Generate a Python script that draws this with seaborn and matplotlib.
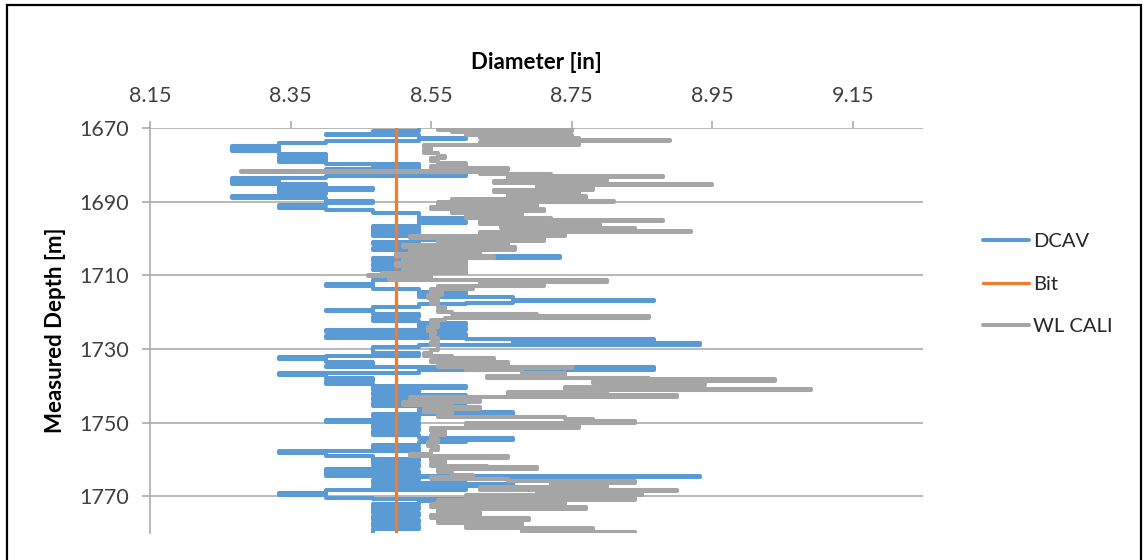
import matplotlib
matplotlib.use("Agg")
import matplotlib.pyplot as plt
import seaborn as sns
import pandas as pd
from matplotlib.patches import Rectangle

# ---- data ----
depth_dcav = [1670.0, 1670.8, 1671.5, 1671.9, 1672.6, 1673.0, 1673.4, 1674.2, 1674.8, 1675.4,
              1675.7, 1676.3, 1677.0, 1677.8, 1678.4, 1678.9, 1679.2, 1679.7, 1680.3, 1680.7,
              1681.2, 1681.9, 1682.6, 1683.0, 1683.6, 1684.2, 1684.6, 1685.3, 1685.8, 1686.4,
              1686.8, 1687.5, 1688.0, 1688.6, 1689.1, 1689.7, 1690.3, 1691.0, 1691.6, 1692.2,
              1693.2, 1694.4, 1694.8, 1695.4, 1695.8, 1696.6, 1697.2, 1697.6, 1698.2, 1698.6,
              1699.4, 1700.0, 1700.4, 1701.0, 1701.6, 1702.0, 1702.5, 1703.0, 1703.6, 1704.4,
              1704.9, 1705.3, 1706.0, 1706.6, 1707.0, 1707.6, 1708.2, 1708.6, 1709.2, 1710.0,
              1710.6, 1711.3, 1712.5, 1713.0, 1713.8, 1714.6, 1715.2, 1716.0, 1716.6, 1716.9,
              1717.5, 1717.9, 1718.5, 1719.3, 1719.8, 1720.6, 1721.2, 1722.4, 1723.0, 1723.6,
              1724.2, 1724.8, 1725.4, 1726.0, 1726.6, 1727.0, 1727.4, 1727.8, 1728.4, 1728.9,
              1729.6, 1731.0, 1731.8, 1732.3, 1732.8, 1733.6, 1734.6, 1735.0, 1735.6, 1736.6,
              1737.2, 1737.8, 1738.8, 1739.4, 1740.0, 1740.6, 1741.2, 1742.0, 1742.6, 1743.2,
              1744.0, 1744.8, 1745.6, 1746.4, 1747.0, 1747.6, 1748.2, 1749.0, 1749.4, 1749.8,
              1750.6, 1751.6, 1752.4, 1753.4, 1754.2, 1754.8, 1755.4, 1756.2, 1757.0, 1757.8,
              1758.4, 1759.0, 1759.8, 1760.4, 1761.2, 1762.0, 1762.6, 1763.2, 1763.8, 1764.4,
              1764.8, 1765.6, 1766.4, 1766.8, 1767.2, 1768.0, 1768.4, 1769.2, 1769.8, 1770.4,
              1770.8, 1771.2, 1772.0, 1773.0, 1773.6, 1774.6, 1775.4, 1776.4, 1777.2, 1778.2,
              1779.0, 1780.0]
dcav = [8.533, 8.467, 8.400, 8.533, 8.600, 8.533, 8.400, 8.333, 8.267, 8.333,
        8.267, 8.333, 8.400, 8.333, 8.400, 8.333, 8.400, 8.533, 8.467, 8.533,
        8.400, 8.467, 8.600, 8.400, 8.267, 8.333, 8.267, 8.400, 8.333, 8.467,
        8.333, 8.400, 8.333, 8.267, 8.400, 8.467, 8.400, 8.333, 8.400, 8.467,
        8.533, 8.600, 8.533, 8.600, 8.533, 8.467, 8.533, 8.467, 8.533, 8.467,
        8.533, 8.667, 8.533, 8.467, 8.533, 8.600, 8.467, 8.533, 8.600, 8.533,
        8.733, 8.467, 8.533, 8.600, 8.467, 8.600, 8.467, 8.600, 8.533, 8.467,
        8.533, 8.467, 8.400, 8.467, 8.533, 8.600, 8.533, 8.667, 8.867, 8.667,
        8.600, 8.533, 8.467, 8.400, 8.467, 8.533, 8.467, 8.533, 8.600, 8.533,
        8.600, 8.400, 8.467, 8.600, 8.400, 8.600, 8.867, 8.667, 8.933, 8.533,
        8.467, 8.533, 8.400, 8.333, 8.400, 8.467, 8.400, 8.867, 8.533, 8.333,
        8.400, 8.467, 8.400, 8.467, 8.600, 8.467, 8.533, 8.467, 8.600, 8.467,
        8.533, 8.467, 8.600, 8.533, 8.667, 8.467, 8.533, 8.467, 8.400, 8.533,
        8.467, 8.533, 8.467, 8.533, 8.667, 8.600, 8.533, 8.467, 8.533, 8.333,
        8.400, 8.467, 8.533, 8.467, 8.533, 8.467, 8.400, 8.533, 8.400, 8.933,
        8.533, 8.467, 8.600, 8.667, 8.467, 8.600, 8.400, 8.333, 8.400, 8.467,
        8.667, 8.533, 8.467, 8.533, 8.467, 8.533, 8.467, 8.533, 8.467, 8.533,
        8.467, 8.467]

depth_bit = [1670.0, 1780.0]
bit = [8.5, 8.5]

depth_cali = [1670.0, 1670.3, 1670.6, 1670.9, 1671.2, 1671.6, 1672.0, 1672.4, 1672.8, 1673.2,
              1673.4, 1673.8, 1674.2, 1674.6, 1675.2, 1676.0, 1676.8, 1677.6, 1678.2, 1679.0,
              1679.6, 1680.2, 1680.8, 1681.3, 1681.8, 1682.0, 1682.6, 1683.0, 1683.3, 1683.8,
              1684.4, 1685.0, 1685.3, 1685.6, 1686.2, 1686.8, 1687.4, 1688.0, 1688.6, 1689.2,
              1689.8, 1690.2, 1690.8, 1691.4, 1692.0, 1692.6, 1693.2, 1693.6, 1694.4, 1694.9,
              1695.3, 1696.0, 1696.6, 1697.2, 1697.9, 1698.3, 1698.8, 1699.4, 1700.0, 1700.6,
              1701.2, 1701.8, 1702.4, 1703.0, 1703.6, 1704.2, 1704.8, 1705.4, 1706.2, 1706.8,
              1707.6, 1708.2, 1708.8, 1709.4, 1709.8, 1710.2, 1710.8, 1711.4, 1711.7, 1712.4,
              1712.8, 1713.4, 1713.8, 1714.6, 1715.4, 1716.2, 1717.0, 1717.8, 1718.6, 1719.4,
              1720.0, 1720.6, 1721.1, 1721.5, 1722.2, 1723.0, 1724.0, 1725.0, 1726.0, 1727.0,
              1728.0, 1729.0, 1730.2, 1731.2, 1731.8, 1732.4, 1733.0, 1733.6, 1734.4, 1734.8,
              1735.2, 1735.8, 1736.6, 1737.4, 1738.0, 1738.3, 1738.6, 1739.2, 1739.8, 1740.4,
              1740.8, 1741.1, 1741.8, 1742.4, 1743.0, 1743.8, 1744.4, 1745.2, 1745.8, 1746.4,
              1747.0, 1747.6, 1748.4, 1749.0, 1749.6, 1750.2, 1750.8, 1751.6, 1752.4, 1753.4,
              1754.4, 1755.4, 1756.4, 1757.4, 1758.6, 1759.2, 1759.6, 1760.4, 1761.2, 1761.8,
              1762.2, 1762.6, 1763.4, 1764.2, 1764.8, 1765.4, 1766.0, 1766.4, 1767.0, 1767.6,
              1768.3, 1768.6, 1769.2, 1769.8, 1770.4, 1771.0, 1771.6, 1772.2, 1773.0, 1773.6,
              1774.4, 1775.2, 1775.8, 1776.4, 1777.2, 1778.0, 1778.6, 1779.2, 1779.8, 1780.0]
wl_cali = [8.75, 8.56, 8.75, 8.58, 8.74, 8.60, 8.75, 8.62, 8.76, 8.89,
           8.74, 8.62, 8.76, 8.54, 8.55, 8.54, 8.56, 8.57, 8.55, 8.56,
           8.60, 8.55, 8.66, 8.58, 8.28, 8.62, 8.72, 8.88, 8.66, 8.80,
           8.64, 8.76, 8.95, 8.70, 8.78, 8.64, 8.76, 8.66, 8.77, 8.58,
           8.81, 8.56, 8.70, 8.55, 8.71, 8.58, 8.68, 8.60, 8.72, 8.88,
           8.62, 8.79, 8.65, 8.84, 8.92, 8.62, 8.74, 8.52, 8.71, 8.56,
           8.66, 8.51, 8.67, 8.52, 8.62, 8.50, 8.64, 8.51, 8.60, 8.50,
           8.60, 8.51, 8.60, 8.48, 8.46, 8.55, 8.49, 8.80, 8.62, 8.71,
           8.56, 8.61, 8.55, 8.565, 8.545, 8.56, 8.55, 8.56, 8.57, 8.56,
           8.58, 8.70, 8.86, 8.57, 8.55, 8.56, 8.545, 8.555, 8.55, 8.56,
           8.55, 8.56, 8.55, 8.54, 8.58, 8.64, 8.55, 8.66, 8.56, 8.75,
           8.60, 8.68, 8.74, 8.63, 8.86, 9.04, 8.78, 8.94, 8.85, 8.74,
           9.09, 8.80, 8.66, 8.90, 8.52, 8.62, 8.51, 8.58, 8.62, 8.54,
           8.58, 8.56, 8.74, 8.78, 8.84, 8.60, 8.76, 8.55, 8.57, 8.55,
           8.56, 8.545, 8.56, 8.55, 8.52, 8.66, 8.55, 8.57, 8.55, 8.63,
           8.70, 8.56, 8.58, 8.61, 8.55, 8.66, 8.84, 8.72, 8.80, 8.62,
           8.90, 8.70, 8.85, 8.60, 8.84, 8.56, 8.74, 8.55, 8.77, 8.56,
           8.62, 8.55, 8.69, 8.56, 8.68, 8.60, 8.78, 8.68, 8.84, 8.84]

x_ticks = [8.15, 8.35, 8.55, 8.75, 8.95, 9.15]
y_ticks = [1670, 1690, 1710, 1730, 1750, 1770]
series_names = ["DCAV", "Bit", "WL CALI"]
series_colors = ["#5B9BD5", "#ED7D31", "#A5A5A5"]

# ---- figure ----
sns.set_theme(style="white")
plt.rcParams['font.family'] = ['Lato', 'DejaVu Sans']

W, H = 1144, 560
fig = plt.figure(figsize=(W / 100, H / 100), dpi=100)
ax = fig.add_axes([150 / W, 1 - 533 / H, (923 - 150) / W, (533 - 128) / H])

frames = [
    pd.DataFrame({"depth": depth_dcav, "diam": dcav}),
    pd.DataFrame({"depth": depth_bit, "diam": bit}),
    pd.DataFrame({"depth": depth_cali, "diam": wl_cali}),
]
widths = [2.9, 2.4, 2.9]
for df, name, col, lw in zip(frames, series_names, series_colors, widths):
    sns.lineplot(data=df, x="diam", y="depth", sort=False, orient="y",
                 estimator=None, drawstyle="steps-pre", color=col, lw=lw,
                 solid_capstyle="round", solid_joinstyle="round",
                 label=name, ax=ax, legend=False)

ax.set_xlim(8.15, 9.25)
ax.set_ylim(1780, 1670)
ax.set_xticks(x_ticks)
ax.set_xticklabels([f"{v:.2f}" for v in x_ticks])
ax.set_yticks(y_ticks)
ax.set_yticklabels([str(v) for v in y_ticks])

ax.xaxis.tick_top()
ax.xaxis.set_label_position("top")
ax.set_xlabel("Diameter [in]", fontsize=16, fontweight="bold", labelpad=12, color="#000000")
ax.set_ylabel("Measured Depth [m]", fontsize=16, fontweight="bold", labelpad=10, color="#000000")

ax.grid(False)
ax.yaxis.grid(True, color="#A6A6A6", lw=1.1)
for s in ["right", "bottom", "top"]:
    ax.spines[s].set_visible(False)
ax.spines["left"].set_color("#A6A6A6")
ax.spines["left"].set_linewidth(1.1)

ax.tick_params(axis="x", which="both", top=True, bottom=False, direction="out",
               length=5, width=1.1, color="#A6A6A6", pad=11, labelsize=15.5, labelcolor="#404040")
ax.tick_params(axis="y", which="both", left=True, direction="out",
               length=6, width=1.1, color="#A6A6A6", pad=9, labelsize=15.5, labelcolor="#404040")
ax.set_axisbelow(True)

handles = ax.get_lines()[:3]
fig.legend(handles, series_names, loc="center left",
           bbox_to_anchor=(983 / W, 1 - 284 / H), frameon=False, fontsize=14.5,
           handlelength=2.3, handletextpad=0.2, labelspacing=1.25,
           borderpad=0, borderaxespad=0)

fig.patches.append(Rectangle((7 / W, -0.02), (1141 - 7) / W, 1 - 5 / H + 0.02,
                             transform=fig.transFigure, fill=False,
                             edgecolor="#000000", lw=1.6))

fig.savefig("out.png", dpi=100)
